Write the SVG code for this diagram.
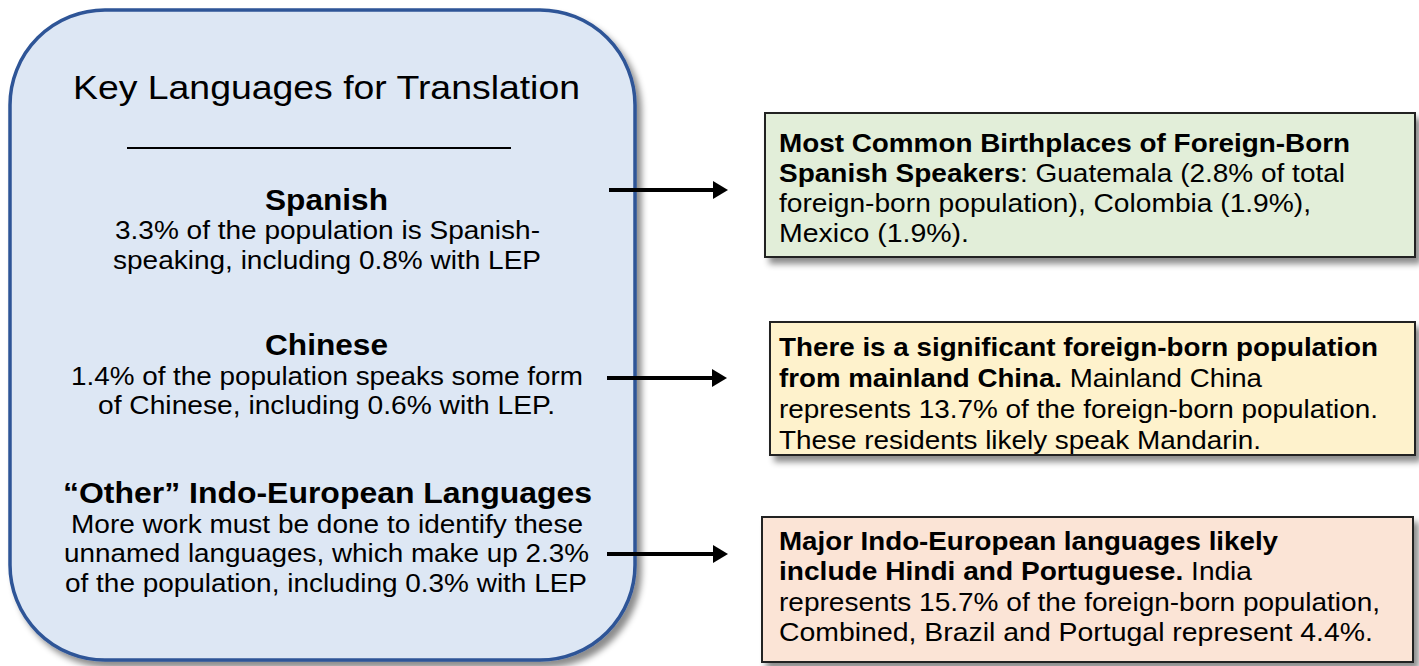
<svg xmlns="http://www.w3.org/2000/svg" width="1419" height="666" viewBox="0 0 1419 666">
<defs>
<filter id="sh" x="-5%" y="-5%" width="115%" height="120%">
<feDropShadow dx="5" dy="6" stdDeviation="3" flood-color="#000" flood-opacity="0.45"/>
</filter>
<marker id="ah" markerWidth="4" markerHeight="5" refX="0.8" refY="2.25" orient="auto" markerUnits="strokeWidth">
<path d="M0,0 L3.8,2.25 L0,4.5 Z" fill="#000"/>
</marker>
<style>
text{font-family:"Liberation Sans",Arial,sans-serif;fill:#000}
.t{font-size:33px}
.h{font-size:29px;font-weight:bold}
.b{font-size:25px}
.n{font-size:26px}
.bb{font-weight:bold}
.box{stroke:#222;stroke-width:2}
.con{stroke:#000;stroke-width:4;fill:none;marker-end:url(#ah)}
</style>
</defs>
<rect width="1419" height="666" fill="#fff"/>
<g id="main">
<rect x="10" y="10" width="625" height="650" rx="95" ry="95" fill="#DDE7F4" stroke="#2F5597" stroke-width="3.5" filter="url(#sh)"/>
<text class="t" x="326.5" y="99" text-anchor="middle" textLength="507" lengthAdjust="spacingAndGlyphs">Key Languages for Translation</text>
<line x1="127" y1="148" x2="511" y2="148" stroke="#000" stroke-width="2"/>
<text class="h" x="326.5" y="210" text-anchor="middle" textLength="123" lengthAdjust="spacingAndGlyphs">Spanish</text>
<text class="b" x="327.5" y="239" text-anchor="middle" textLength="425" lengthAdjust="spacingAndGlyphs">3.3% of the population is Spanish-</text>
<text class="b" x="327" y="269" text-anchor="middle" textLength="428" lengthAdjust="spacingAndGlyphs">speaking, including 0.8% with LEP</text>
<text class="h" x="326.5" y="355" text-anchor="middle" textLength="123" lengthAdjust="spacingAndGlyphs">Chinese</text>
<text class="b" x="327" y="385" text-anchor="middle" textLength="512" lengthAdjust="spacingAndGlyphs">1.4% of the population speaks some form</text>
<text class="b" x="326.5" y="414" text-anchor="middle" textLength="457" lengthAdjust="spacingAndGlyphs">of Chinese, including 0.6% with LEP.</text>
<text class="h" x="327.5" y="503" text-anchor="middle" textLength="529" lengthAdjust="spacingAndGlyphs">“Other” Indo-European Languages</text>
<text class="b" x="327" y="533" text-anchor="middle" textLength="512" lengthAdjust="spacingAndGlyphs">More work must be done to identify these</text>
<text class="b" x="326.5" y="562" text-anchor="middle" textLength="525" lengthAdjust="spacingAndGlyphs">unnamed languages, which make up 2.3%</text>
<text class="b" x="326" y="592" text-anchor="middle" textLength="522" lengthAdjust="spacingAndGlyphs">of the population, including 0.3% with LEP</text>
</g>
<g id="spanish-note">
<rect class="box" x="765" y="113" width="650" height="144" fill="#E2EED9" filter="url(#sh)"/>
<text class="n" x="779" y="152" textLength="571" lengthAdjust="spacingAndGlyphs"><tspan class="bb">Most Common Birthplaces of Foreign-Born</tspan></text>
<text class="n" x="779" y="182" textLength="566" lengthAdjust="spacingAndGlyphs"><tspan class="bb">Spanish Speakers</tspan>: Guatemala (2.8% of total</text>
<text class="n" x="779" y="212" textLength="532" lengthAdjust="spacingAndGlyphs">foreign-born population), Colombia (1.9%),</text>
<text class="n" x="779" y="242" textLength="190" lengthAdjust="spacingAndGlyphs">Mexico (1.9%).</text>
</g>
<g id="chinese-note">
<rect class="box" x="770" y="322" width="645" height="133" fill="#FEF2CC" filter="url(#sh)"/>
<text class="n" x="779" y="356" textLength="599" lengthAdjust="spacingAndGlyphs"><tspan class="bb">There is a significant foreign-born population</tspan></text>
<text class="n" x="779" y="387" textLength="483" lengthAdjust="spacingAndGlyphs"><tspan class="bb">from mainland China.</tspan> Mainland China</text>
<text class="n" x="779" y="418" textLength="599" lengthAdjust="spacingAndGlyphs">represents 13.7% of the foreign-born population.</text>
<text class="n" x="779" y="449" textLength="482" lengthAdjust="spacingAndGlyphs">These residents likely speak Mandarin.</text>
</g>
<g id="indo-note">
<rect class="box" x="762" y="517" width="651" height="145" fill="#FBE4D6" filter="url(#sh)"/>
<text class="n" x="779" y="550" textLength="499" lengthAdjust="spacingAndGlyphs"><tspan class="bb">Major Indo-European languages likely</tspan></text>
<text class="n" x="779" y="580" textLength="473" lengthAdjust="spacingAndGlyphs"><tspan class="bb">include Hindi and Portuguese.</tspan> India</text>
<text class="n" x="779" y="611" textLength="601" lengthAdjust="spacingAndGlyphs">represents 15.7% of the foreign-born population,</text>
<text class="n" x="779" y="641" textLength="594" lengthAdjust="spacingAndGlyphs">Combined, Brazil and Portugal represent 4.4%.</text>
</g>
<g id="connectors">
<line class="con" x1="609" y1="190" x2="716" y2="190"/>
<line class="con" x1="607" y1="378" x2="715" y2="378"/>
<line class="con" x1="607" y1="554" x2="716" y2="554"/>
</g>
</svg>
